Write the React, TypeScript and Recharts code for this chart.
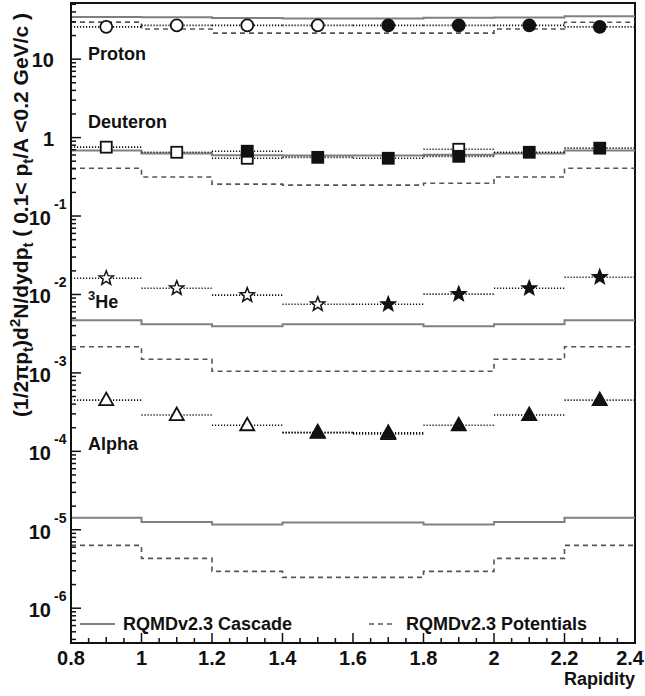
import { ComposedChart, Line, Scatter, XAxis, YAxis, ErrorBar, ReferenceArea } from 'recharts';

const binEdges = [0.8, 1.0, 1.2, 1.4, 1.6, 1.8, 2.0, 2.2, 2.4];
const halfBin = 0.1;

// RQMD v2.3 histograms, one value per bin
const protonCascade = [34.6, 34.3, 33.4, 33.0, 33.0, 33.8, 34.0, 35.3];
const protonPotentials = [29.7, 24.2, 21.5, 21.5, 21.5, 21.5, 24.2, 29.5];
const deuteronCascade = [0.686, 0.627, 0.595, 0.589, 0.589, 0.606, 0.627, 0.686];
const deuteronPotentials = [0.407, 0.315, 0.255, 0.248, 0.248, 0.262, 0.315, 0.407];
const he3Cascade = [0.00469, 0.00417, 0.00393, 0.00417, 0.00417, 0.00393, 0.00417, 0.00469];
const he3Potentials = [0.00215, 0.00149, 0.00105, 0.00105, 0.00105, 0.00105, 0.00149, 0.00215];
const alphaCascade = [1.42e-5, 1.26e-5, 1.17e-5, 1.24e-5, 1.24e-5, 1.17e-5, 1.26e-5, 1.42e-5];
const alphaPotentials = [6.32e-6, 4.32e-6, 2.95e-6, 2.47e-6, 2.47e-6, 2.95e-6, 4.32e-6, 6.32e-6];

// measured (filled) and reflected (open) points
const protonMeasX = [1.7, 1.9, 2.1, 2.3];
const protonMeas = [27.0, 27.0, 27.0, 25.8];
const protonReflX = [0.9, 1.1, 1.3, 1.5];
const protonRefl = [25.8, 27.0, 27.0, 27.0];

const deuteronMeasX = [1.3, 1.5, 1.7, 1.9, 2.1, 2.3];
const deuteronMeas = [0.67, 0.56, 0.545, 0.577, 0.65, 0.733];
const deuteronReflX = [0.9, 1.1, 1.3, 1.9];
const deuteronRefl = [0.755, 0.65, 0.545, 0.71];

const he3MeasX = [1.7, 1.9, 2.1, 2.3];
const he3Meas = [0.0075, 0.0101, 0.012, 0.0166];
const he3ReflX = [0.9, 1.1, 1.3, 1.5];
const he3Refl = [0.0161, 0.012, 0.0098, 0.0075];

const alphaMeasX = [1.5, 1.7, 1.9, 2.1, 2.3];
const alphaMeas = [1.75e-4, 1.72e-4, 2.15e-4, 2.9e-4, 4.5e-4];
const alphaReflX = [0.9, 1.1, 1.3, 1.5, 1.7];
const alphaRefl = [4.5e-4, 2.9e-4, 2.15e-4, 1.72e-4, 1.66e-4];

const xMajor = [0.8, 1.0, 1.2, 1.4, 1.6, 1.8, 2.0, 2.2, 2.4];
const yMajor = [1e-6, 1e-5, 1e-4, 1e-3, 1e-2, 1e-1, 1, 10];
const yDomain = [3.6e-7, 52];

const FONT = '"Liberation Sans", Arial, Helvetica, sans-serif';
const INK = '#111';

const hist = (vals: number[]) =>
  binEdges.map((x, i) => ({ x, y: vals[Math.min(i, vals.length - 1)] }));
const pts = (xs: number[], ys: number[]) => xs.map((x, i) => ({ x, y: ys[i], ex: halfBin }));

// minor ticks: every 0.05 on x, 2..9 per decade on y
const xTicks: number[] = [];
xMajor.slice(0, -1).forEach((m) => {
  for (let k = 0; k < 4; k++) xTicks.push(+(m + k * 0.05).toFixed(2));
});
xTicks.push(2.4);
const yTicks: number[] = [];
[1e-7, ...yMajor].forEach((d) => {
  for (let m = 1; m < 10; m++) {
    const v = +(m * d).toPrecision(3);
    if (v >= yDomain[0] && v <= yDomain[1]) yTicks.push(v);
  }
});

const isMajorX = (v: number) => xMajor.some((m) => Math.abs(m - v) < 1e-6);
const isMajorY = (v: number) => yMajor.some((m) => Math.abs(m - v) / m < 1e-6);

function XTick(props: any) {
  const { x, y, payload } = props;
  const v = payload.value;
  const major = isMajorX(v);
  const len = major ? 10 : Math.abs(v * 10 - Math.round(v * 10)) < 1e-6 ? 6 : 5;
  const last = Math.abs(v - 2.4) < 1e-6;
  return (
    <g>
      <line x1={x} x2={x} y1={y} y2={y - len} stroke={INK} strokeWidth={1.5} />
      {major && (
        <text
          x={last ? 644 : x}
          y={y + 22}
          textAnchor={last ? 'end' : 'middle'}
          fontFamily={FONT}
          fontWeight="bold"
          fontSize={20}
          fill={INK}
        >
          {String(+v.toFixed(1))}
        </text>
      )}
    </g>
  );
}

function YTick(props: any) {
  const { x, y, payload } = props;
  const v = payload.value;
  const major = isMajorY(v);
  const e = Math.round(Math.log10(v));
  return (
    <g>
      <line x1={x} x2={x + (major ? 10 : 5)} y1={y} y2={y} stroke={INK} strokeWidth={1.5} />
      {major && e >= 0 && (
        <text x={x - 17} y={y + 8} textAnchor="end" fontFamily={FONT} fontWeight="bold" fontSize={20} fill={INK}>
          {e === 0 ? '1' : '10'}
        </text>
      )}
      {major && e < 0 && (
        <g fontFamily={FONT} fontWeight="bold" fill={INK}>
          <text x={x - 20} y={y + 9} textAnchor="end" fontSize={20}>10</text>
          <text x={x - 17} y={y - 7} textAnchor="start" fontSize={14}>{String(e)}</text>
        </g>
      )}
    </g>
  );
}

function Marker(props: any) {
  const { cx, cy, kind, filled } = props;
  if (cx == null || cy == null) return null;
  const fill = filled ? INK : '#fff';
  const common = { fill, stroke: INK, strokeWidth: 1.8 };
  if (kind === 'circle') return <circle cx={cx} cy={cy} r={6} {...common} />;
  if (kind === 'square') return <rect x={cx - 5.5} y={cy - 5.5} width={11} height={11} {...common} />;
  if (kind === 'triangle')
    return <polygon points={`${cx},${cy - 7.5} ${cx - 7},${cy + 5} ${cx + 7},${cy + 5}`} {...common} />;
  const p: string[] = [];
  for (let i = 0; i < 10; i++) {
    const r = i % 2 === 0 ? 7.5 : 3.2;
    const a = -Math.PI / 2 + (i * Math.PI) / 5;
    p.push(`${cx + r * Math.cos(a)},${cy + r * Math.sin(a)}`);
  }
  return <polygon points={p.join(' ')} {...common} strokeWidth={1.5} />;
}

const species = [
  { cascade: protonCascade, potentials: protonPotentials, kind: 'circle', mx: protonMeasX, my: protonMeas, rx: protonReflX, ry: protonRefl },
  { cascade: deuteronCascade, potentials: deuteronPotentials, kind: 'square', mx: deuteronMeasX, my: deuteronMeas, rx: deuteronReflX, ry: deuteronRefl },
  { cascade: he3Cascade, potentials: he3Potentials, kind: 'star', mx: he3MeasX, my: he3Meas, rx: he3ReflX, ry: he3Refl },
  { cascade: alphaCascade, potentials: alphaPotentials, kind: 'triangle', mx: alphaMeasX, my: alphaMeas, rx: alphaReflX, ry: alphaRefl },
];

const label = { fontFamily: FONT, fontWeight: 'bold' as const, fontSize: 18, fill: INK };

export default function App() {
  return (
    <div style={{ position: 'absolute', left: 0, top: 0, width: 645, height: 696, background: '#fff' }}>
      <ComposedChart width={645} height={696} margin={{ top: 3, right: 10, bottom: 13, left: 0 }}>
        <XAxis
          type="number"
          dataKey="x"
          domain={[0.8, 2.4]}
          ticks={xTicks}
          interval={0}
          tick={<XTick />}
          tickLine={false}
          tickSize={0}
          tickMargin={0}
          height={40}
          axisLine={{ stroke: INK, strokeWidth: 2 }}
          allowDataOverflow
        />
        <YAxis
          type="number"
          dataKey="y"
          scale="log"
          domain={yDomain}
          ticks={yTicks}
          interval={0}
          tick={<YTick />}
          tickLine={false}
          tickSize={0}
          tickMargin={0}
          width={71}
          axisLine={{ stroke: INK, strokeWidth: 2 }}
          allowDataOverflow
        />
        {species.map((s, i) => (
          <Line
            key={`c${i}`}
            data={hist(s.cascade)}
            dataKey="y"
            type="stepAfter"
            stroke="#808080"
            strokeWidth={2}
            dot={false}
            isAnimationActive={false}
          />
        ))}
        {species.map((s, i) => (
          <Line
            key={`p${i}`}
            data={hist(s.potentials)}
            dataKey="y"
            type="stepAfter"
            stroke="#555"
            strokeWidth={1.6}
            strokeDasharray="5 4"
            dot={false}
            isAnimationActive={false}
          />
        ))}
        {species.map((s, i) => (
          <Scatter
            key={`r${i}`}
            data={pts(s.rx, s.ry)}
            dataKey="y"
            shape={(p: any) => <Marker {...p} kind={s.kind} filled={false} />}
            isAnimationActive={false}
          >
            <ErrorBar dataKey="ex" direction="x" width={0} stroke={INK} strokeWidth={1.6} strokeDasharray="1.2 1.8" />
          </Scatter>
        ))}
        {species.map((s, i) => (
          <Scatter
            key={`m${i}`}
            data={pts(s.mx, s.my)}
            dataKey="y"
            shape={(p: any) => <Marker {...p} kind={s.kind} filled />}
            isAnimationActive={false}
          >
            <ErrorBar dataKey="ex" direction="x" width={0} stroke={INK} strokeWidth={1.6} strokeDasharray="1.2 1.8" />
          </Scatter>
        ))}
        <ReferenceArea x1={0.8} x2={2.4} y1={yDomain[0]} y2={yDomain[1]} fill="none" stroke={INK} strokeWidth={2} ifOverflow="visible" />
      </ComposedChart>
      <svg width={645} height={696} style={{ position: 'absolute', left: 0, top: 0, pointerEvents: 'none' }}>
        <text x={88} y={60} {...label}>Proton</text>
        <text x={88} y={128} {...label}>Deuteron</text>
        <text x={88} y={308} {...label}>
          <tspan fontSize={13} dy={-8}>3</tspan>
          <tspan dy={8}>He</tspan>
        </text>
        <text x={88} y={450} {...label}>Alpha</text>
        <line x1={80} x2={115} y1={624} y2={624} stroke="#808080" strokeWidth={2} />
        <text x={123} y={630} {...label}>RQMDv2.3 Cascade</text>
        <line x1={369} x2={396} y1={624} y2={624} stroke="#555" strokeWidth={1.6} strokeDasharray="5 4" />
        <text x={406} y={630} {...label}>RQMDv2.3 Potentials</text>
        <text x={635} y={685} textAnchor="end" {...label}>Rapidity</text>
        <text transform="translate(28,215) rotate(-90)" textAnchor="middle" {...label} fontSize={21}>
          (1/2πp<tspan fontSize={15} dy={5}>t</tspan>
          <tspan dy={-5}>)d</tspan>
          <tspan fontSize={15} dy={-8}>2</tspan>
          <tspan dy={8}>N/dydp</tspan>
          <tspan fontSize={15} dy={5}>t</tspan>
          <tspan dy={-5}> ( 0.1&lt; p</tspan>
          <tspan fontSize={15} dy={5}>t</tspan>
          <tspan dy={-5}>/A &lt;0.2 GeV/c )</tspan>
        </text>
      </svg>
    </div>
  );
}
